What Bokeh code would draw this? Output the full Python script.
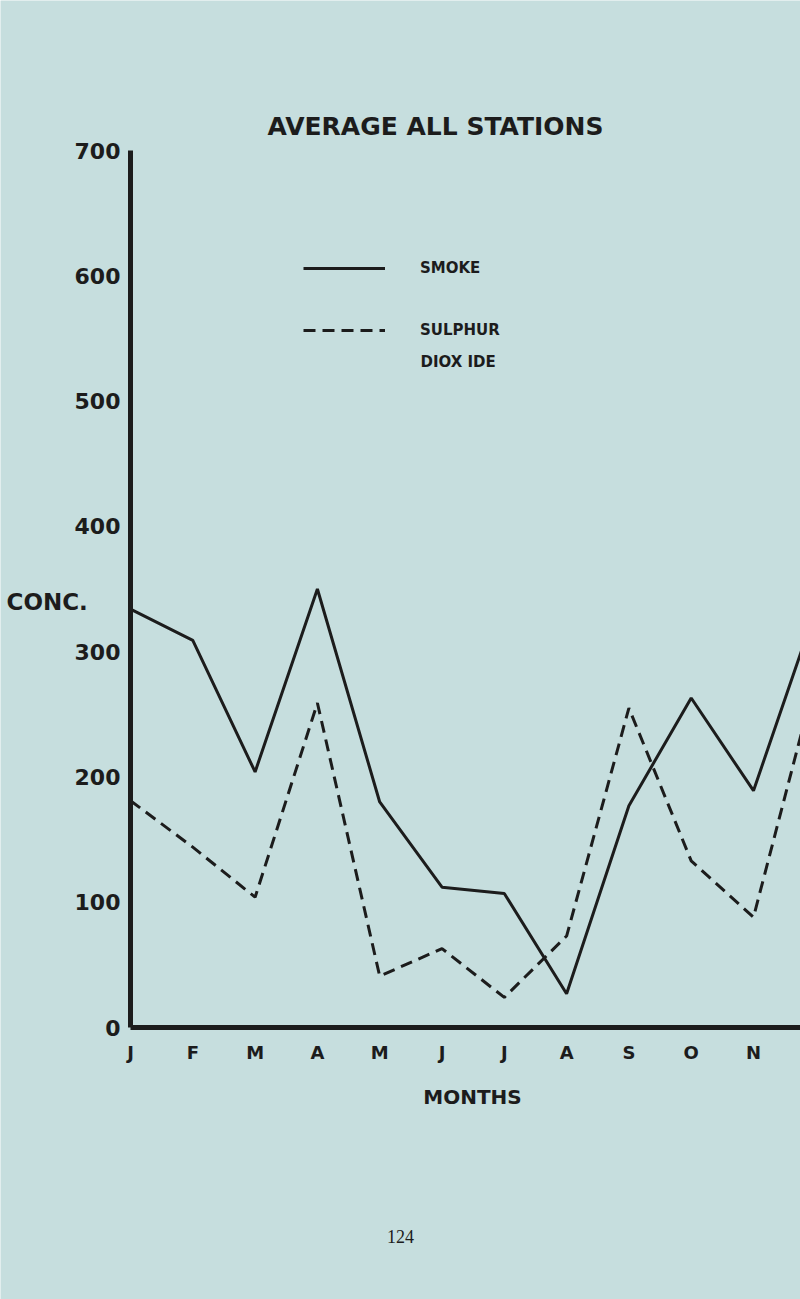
from bokeh.plotting import figure
from bokeh.models import Range1d, FixedTicker, Label, Legend, LegendItem, ColumnDataSource
from bokeh.embed import file_html
from bokeh.resources import INLINE

# ---- data ----
months = ["J", "F", "M", "A", "M", "J", "J", "A", "S", "O", "N", "D"]
month_idx = list(range(len(months)))
smoke = [334, 309, 204, 350, 180, 112, 107, 27, 177, 263, 189, 334]
sulphur_dioxide = [181, 144, 104, 259, 41, 63, 24, 73, 255, 133, 88, 279]
y_ticks = [0, 100, 200, 300, 400, 500, 600, 700]

BG = "#c6dede"
INK = "#1c1c1c"
FONT = "DejaVu Sans"

W, H = 800, 1299
ORIGIN_X, ORIGIN_Y = 130, 1027    # page px of (J, 0)
X_STEP = 62.3                     # px per month
Y_PX = (1027 - 150) / 700.0       # px per unit

x_range = Range1d(-ORIGIN_X / X_STEP, (W - ORIGIN_X) / X_STEP)
y_range = Range1d(-(H - ORIGIN_Y) / Y_PX, ORIGIN_Y / Y_PX)

p = figure(width=W, height=H, output_backend="svg", toolbar_location=None,
           x_range=x_range, y_range=y_range, title=None,
           min_border_left=0, min_border_right=0, min_border_top=0,
           min_border_bottom=0)
p.background_fill_color = BG
p.border_fill_color = BG
p.outline_line_color = None
p.xgrid.visible = False
p.ygrid.visible = False

src = ColumnDataSource(dict(m=month_idx, smoke=smoke, so2=sulphur_dioxide))
r_smoke = p.line("m", "smoke", source=src, line_color=INK, line_width=3)
r_so2 = p.line("m", "so2", source=src, line_color=INK, line_width=3,
               line_dash="12 7")

for ax in (p.xaxis[0], p.yaxis[0]):
    ax.fixed_location = 0
    ax.axis_line_width = 5
    ax.axis_line_color = INK
    ax.major_tick_in = 0
    ax.major_tick_out = 0
    ax.minor_tick_in = 0
    ax.minor_tick_out = 0
    ax.major_label_text_color = INK
    ax.major_label_text_font = FONT
    ax.major_label_text_font_style = "bold"

p.xaxis.bounds = (0, (W - ORIGIN_X) / X_STEP)
p.xaxis.ticker = FixedTicker(ticks=month_idx[:11])
p.xaxis.major_label_overrides = {i: m for i, m in zip(month_idx, months)}
p.xaxis.major_label_text_font_size = "18px"
p.xaxis.major_label_standoff = 14

p.yaxis.bounds = (0, 700)
p.yaxis.ticker = FixedTicker(ticks=y_ticks)
p.yaxis.major_label_text_font_size = "22px"
p.yaxis.major_label_standoff = 10

# page-pixel helpers for placing the texts
def px(xp):
    return (xp - ORIGIN_X) / X_STEP
def py(yp):
    return (ORIGIN_Y - yp) / Y_PX

def label(text, x, y, size, align="center", style="bold", font=FONT):
    p.add_layout(Label(x=px(x), y=py(y), text=text, text_font=font,
                       text_font_size=size, text_font_style=style,
                       text_color=INK, text_align=align,
                       text_baseline="middle"))

label("AVERAGE ALL STATIONS", 435, 126, "25px")
label("CONC.", 6, 601, "23px", align="left")
label("MONTHS", 472, 1096, "20px")
label("DIOX IDE", 420, 361, "15px", align="left")
label("124", 400, 1236, "18px", style="normal", font="Liberation Serif")

legend = Legend(items=[LegendItem(label="SMOKE", renderers=[r_smoke]),
                       LegendItem(label="SULPHUR", renderers=[r_so2])],
                location=(303, H - 340),
                padding=0, margin=0, spacing=42,
                glyph_width=82, glyph_height=20, label_height=20,
                label_standoff=35,
                label_text_font=FONT, label_text_font_size="15px",
                label_text_font_style="bold", label_text_color=INK,
                background_fill_alpha=0, border_line_color=None)
p.add_layout(legend)

open("out.html", "w").write(file_html(p, INLINE))
